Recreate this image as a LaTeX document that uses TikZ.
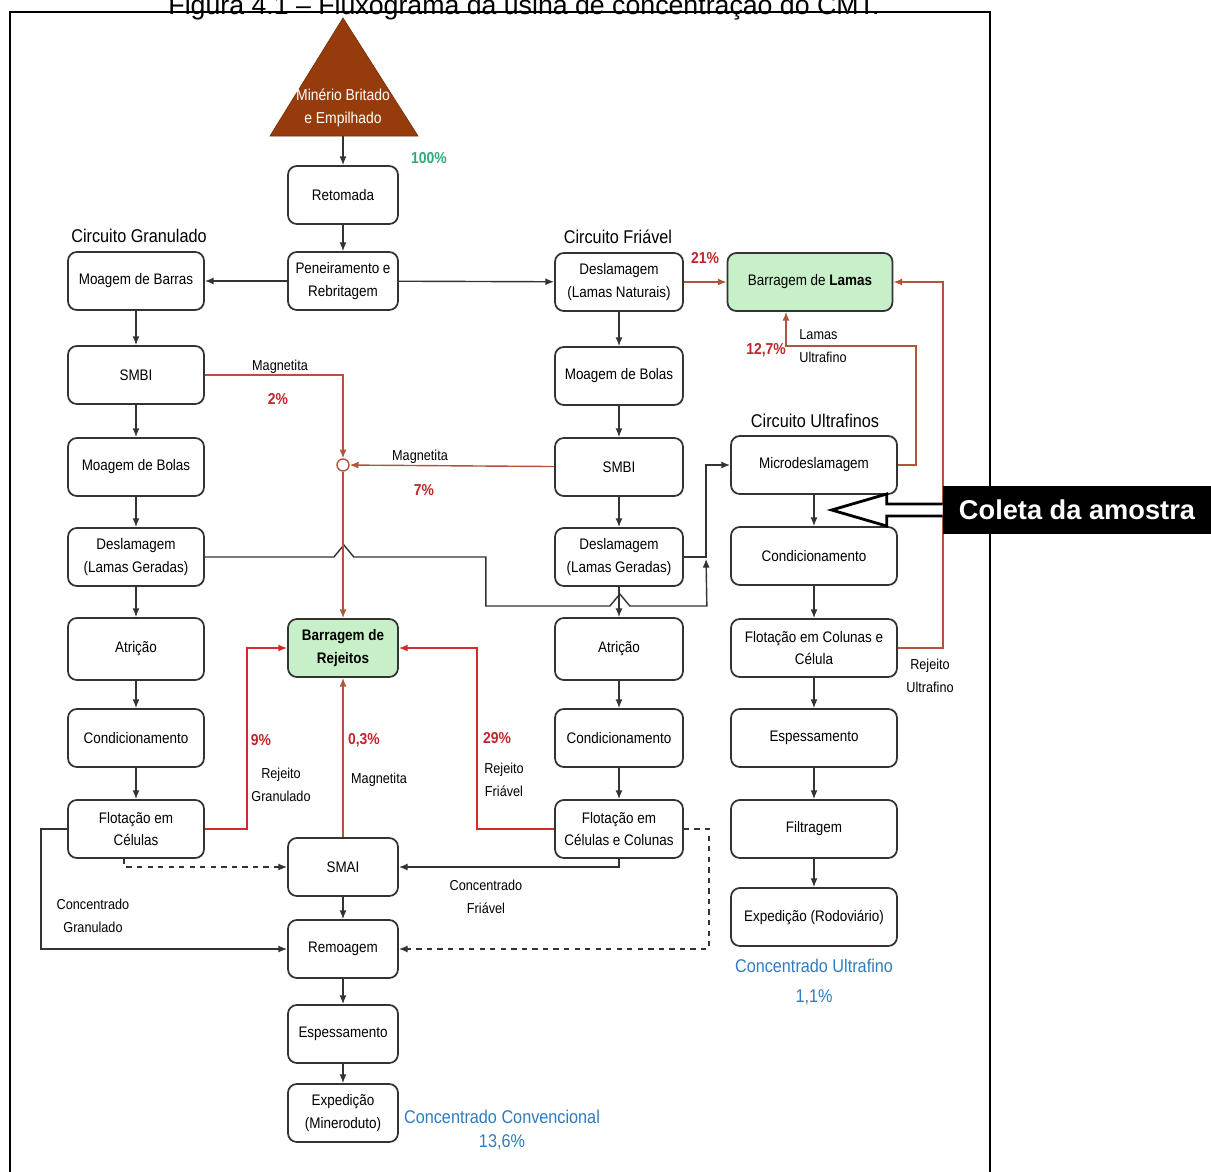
\documentclass[tikz,border=0pt]{standalone}
\usepackage{fontspec}
\setmainfont{Liberation Sans}
\newfontfamily\narrowfont[FakeStretch=0.88]{Liberation Sans}
\usetikzlibrary{arrows.meta}

\definecolor{cMinerio}{HTML}{963C0C}
\definecolor{cMag}{HTML}{B0553A}
\definecolor{cRejeito}{HTML}{D42A2A}
\definecolor{cPct}{HTML}{C0252A}
\definecolor{cVerde}{HTML}{2EAA78}
\definecolor{cAzul}{HTML}{2E7BC0}
\definecolor{cBarragem}{HTML}{C8F0C8}

\begin{document}
\begin{tikzpicture}[x=0.02cm,y=-0.02cm]
	\tikzset{
		proc/.style={draw=black!80, line width=1pt, rounded corners=5pt, fill=white, align=center,
			inner sep=1pt, minimum height=1.16cm, font=\narrowfont\fontsize{8.7}{13}\selectfont},
		procG/.style={proc, minimum width=2.72cm},
		procM/.style={proc, minimum width=2.2cm},
		procF/.style={proc, minimum width=2.56cm},
		procU/.style={proc, minimum width=3.32cm},
		barragem/.style={fill=cBarragem},
		flow/.style={draw=black!80, line width=0.8pt, -{Latex[length=5pt,width=4pt]}},
		flowdash/.style={flow, dashed},
		mag/.style={flow, draw=cMag},
		rejeito/.style={flow, draw=cRejeito},
		lbl/.style={align=center, inner sep=0pt, font=\narrowfont\fontsize{8.2}{13}\selectfont},
		pct/.style={inner sep=0pt, text=cPct, font=\narrowfont\bfseries\fontsize{9}{11}\selectfont},
		circuito/.style={inner sep=0pt, font=\narrowfont\fontsize{10.5}{12}\selectfont},
		conc/.style={align=center, inner sep=0pt, text=cAzul, font=\narrowfont\fontsize{10.5}{14}\selectfont},
		titulo/.style={anchor=base, inner sep=0pt, font=\fontsize{15.2}{18}\selectfont},
		coleta/.style={fill=black, text=white, minimum width=5.36cm, minimum height=0.96cm,
			font=\bfseries\fontsize{15.5}{18}\selectfont},
		seta/.style={draw=black, fill=white, line width=1.6pt}
	}
	\useasboundingbox (0,0) rectangle (1211,1171);

	% moldura e titulo
	\draw[line width=1.2pt] (10,12) rectangle (990,1190);
	\node[titulo] (titulo) at (524,14) {Figura 4.1 – Fluxograma da usina de concentração do CMT.};

	% pilha de minerio
	\fill[cMinerio, draw=cMinerio!80!black] (270,136) -- (343,18) -- (418,136) -- cycle;
	\node[lbl, text=white, font=\narrowfont\fontsize{9}{13}\selectfont] (minerio) at (343,108) {Minério Britado\\e Empilhado};
	\coordinate (minerioBase) at (343,136);
	\node[pct, text=cVerde] (pct100) at (429,158) {100\%};

	% coluna central
	\node[procM] (retomada) at (343,195) {Retomada};
	\node[procM] (peneira) at (343,281) {Peneiramento e\\Rebritagem};
	\node[procM, barragem, font=\narrowfont\bfseries\fontsize{8.7}{13}\selectfont] (rejeitos) at (343,648) {Barragem de\\Rejeitos};
	\node[procM] (smai) at (343,867) {SMAI};
	\node[procM] (remoagem) at (343,949) {Remoagem};
	\node[procM] (espM) at (343,1034) {Espessamento};
	\node[procM] (expM) at (343,1113) {Expedição\\(Mineroduto)};
	\node[conc] (concConv) at (502,1130) {Concentrado Convencional\\13,6\%};

	% circuito granulado
	\node[circuito] (circG) at (139,236) {Circuito Granulado};
	\node[procG] (moagBarras) at (136,281) {Moagem de Barras};
	\node[procG] (smbiG) at (136,375) {SMBI};
	\node[procG] (moagBolasG) at (136,467) {Moagem de Bolas};
	\node[procG] (deslamG) at (136,557) {Deslamagem\\(Lamas Geradas)};
	\node[procG, minimum height=1.24cm] (atricaoG) at (136,649) {Atrição};
	\node[procG] (condG) at (136,738) {Condicionamento};
	\node[procG] (flotG) at (136,829) {Flotação em\\Células};

	% circuito friavel
	\node[circuito] (circF) at (618,237) {Circuito Friável};
	\node[procF] (deslamN) at (619,282) {Deslamagem\\(Lamas Naturais)};
	\node[procF] (moagBolasF) at (619,376) {Moagem de Bolas};
	\node[procF] (smbiF) at (619,467) {SMBI};
	\node[procF] (deslamF) at (619,557) {Deslamagem\\(Lamas Geradas)};
	\node[procF, minimum height=1.24cm] (atricaoF) at (619,649) {Atrição};
	\node[procF] (condF) at (619,738) {Condicionamento};
	\node[procF] (flotF) at (619,829) {Flotação em\\Células e Colunas};

	\node[proc, barragem, minimum width=3.3cm] (lamas) at (810,282) {Barragem de \textbf{Lamas}};

	% circuito ultrafinos
	\node[circuito] (circU) at (815,421) {Circuito Ultrafinos};
	\node[procU] (micro) at (814,465) {Microdeslamagem};
	\node[procU] (condU) at (814,556) {Condicionamento};
	\node[procU] (flotU) at (814,648) {Flotação em Colunas e\\Célula};
	\node[procU] (espU) at (814,738) {Espessamento};
	\node[procU] (filtU) at (814,829) {Filtragem};
	\node[procU] (expU) at (814,917) {Expedição (Rodoviário)};
	\node[conc, font=\narrowfont\fontsize{10.5}{17}\selectfont] (concUlt) at (814,982) {Concentrado Ultrafino\\1,1\%};

	% fluxo principal
	\draw[flow] (minerioBase) -- (retomada);
	\draw[flow] (retomada) -- (peneira);
	\draw[flow] (peneira) -- (moagBarras);
	\draw[flow] (peneira) -- (deslamN);
	\foreach \a/\b in {moagBarras/smbiG, smbiG/moagBolasG, moagBolasG/deslamG, deslamG/atricaoG,
		atricaoG/condG, condG/flotG, deslamN/moagBolasF, moagBolasF/smbiF, smbiF/deslamF,
		deslamF/atricaoF, atricaoF/condF, condF/flotF, micro/condU, condU/flotU, flotU/espU,
		espU/filtU, filtU/expU, smai/remoagem, remoagem/espM, espM/expM}
		\draw[flow] (\a) -- (\b);

	% lamas geradas para a microdeslamagem (com saltos)
	\coordinate (juncao) at (706,557);
	\draw[flow, shorten >=1pt] (deslamG.east) -- ++(129,0) -- ++(10,-12) -- ++(10,12) -- ++(132,0) -- ++(0,49)
		-- ++(124,0) -- ++(10,-12) -- ++(10,12) -- ++(77,0) -- (juncao);
	\draw[flow] (deslamF) -- (juncao) |- (micro);

	% magnetita
	\node[circle, draw=cMag, fill=white, line width=0.8pt, minimum size=0.24cm, inner sep=0pt] (jct) at (343,465) {};
	\draw[mag] (smbiG.east) -| (jct);
	\draw[mag] (smbiF) -- (jct);
	\draw[mag] (jct) -- (rejeitos);
	\draw[mag] (smai) -- (rejeitos);
	\node[lbl] (mag1) at (280,367) {Magnetita};
	\node[pct] (pct2) at (278,399) {2\%};
	\node[lbl] (mag2) at (420,457) {Magnetita};
	\node[pct] (pct7) at (424,490) {7\%};
	\node[pct] (pct03) at (364,740) {0,3\%};
	\node[lbl] (mag3) at (379,780) {Magnetita};

	% rejeitos
	\draw[rejeito] (flotG.east) -- ++(42,0) |- (rejeitos);
	\draw[rejeito] (flotF.west) -- ++(-77,0) |- (rejeitos);
	\node[pct] (pct9) at (261,740) {9\%};
	\node[lbl] (rejG) at (281,785) {Rejeito\\Granulado};
	\node[pct] (pct29) at (497,738) {29\%};
	\node[lbl] (rejF) at (504,780) {Rejeito\\Friável};

	% concentrados
	\draw[flow] (flotG.west) -- ++(-26,0) |- (remoagem);
	\draw[flowdash] ([xshift=-0.24cm]flotG.south) |- (smai);
	\draw[flow] (flotF.south) |- (smai);
	\draw[flowdash] (flotF.east) -- ++(25,0) |- (remoagem);
	\node[lbl] (concG) at (93,916) {Concentrado\\Granulado};
	\node[lbl] (concF) at (486,897) {Concentrado\\Friável};

	% lamas
	\draw[mag] (deslamN) -- (lamas);
	\node[pct] (pct21) at (705,258) {21\%};
	\draw[mag] (micro.east) -- ++(18,0) -- ++(0,-119) -| ([xshift=-0.48cm]lamas.south);
	\node[pct] (pct127) at (766,350) {12,7\%};
	\node[lbl, align=left] (lamasU) at (823,346) {Lamas\\Ultrafino};
	\draw[mag] (flotU.east) -- ++(45,0) |- (lamas.east);
	\node[lbl] (rejU) at (930,676) {Rejeito\\Ultrafino};

	% coleta da amostra
	\node[coleta] (coleta) at (1077,510) {Coleta da amostra};
	\draw[seta] ([yshift=0.12cm]coleta.west) -- ++(-56,0) -- ++(0,-10) -- ++(-55,16) -- ++(55,16) -- ++(0,-10) -- ++(56,0);
\end{tikzpicture}
\end{document}
